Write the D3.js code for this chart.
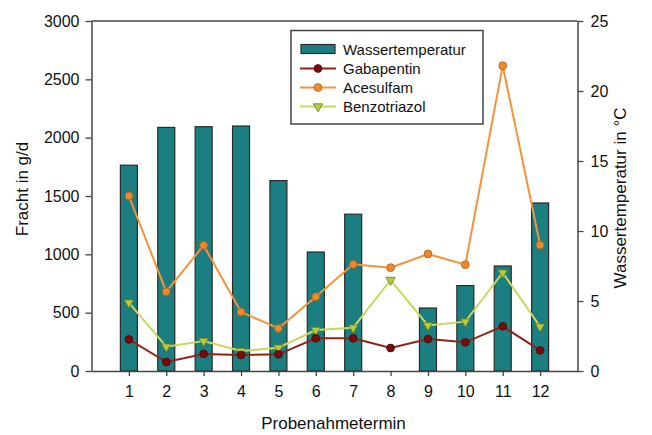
<!DOCTYPE html>
<html><head><meta charset="utf-8">
<script src="https://cdn.jsdelivr.net/npm/d3@7"></script>
<style>body{margin:0;background:#fff;}svg{font-family:"Liberation Sans",Arial,sans-serif;}</style>
</head><body><svg id="c" width="652" height="435"></svg>
<script>
const categories = [1,2,3,4,5,6,7,8,9,10,11,12];
const wassertemperatur = [14.7,17.4,17.45,17.5,13.6,8.5,11.2,null,4.5,6.1,7.5,12.0];
const gabapentin = [271,77,146,137,143,280,280,197,274,246,383,177];
const acesulfam = [1500,680,1077,506,366,637,914,886,1003,911,2617,1080];
const benzotriazol = [586,209,257,171,200,351,371,780,391,423,843,380];
const leftTicks = [0,500,1000,1500,2000,2500,3000];
const rightTicks = [0,5,10,15,20,25];

const svg = d3.select("#c");
const L=91.5, R=577.5, T=21, B=371;
const x = d3.scaleLinear().domain([0,13]).range([L,R]);
const yL = d3.scaleLinear().domain([0,3000]).range([B,T]);
const yR = d3.scaleLinear().domain([0,25]).range([B,T]);
const bw = 17;

// bars
svg.append("g").selectAll("rect").data(categories.map((c,i)=>({c,v:wassertemperatur[i]})).filter(d=>d.v!=null))
 .join("rect").attr("x",d=>x(d.c)-bw/2).attr("width",bw)
 .attr("y",d=>yR(d.v)).attr("height",d=>B-yR(d.v))
 .attr("fill","#1b7e80").attr("stroke","#2b2b2b").attr("stroke-width",1.2);

// frame
svg.append("line").attr("x1",L).attr("x2",R).attr("y1",T).attr("y2",T).attr("stroke","#444").attr("stroke-width",1.5);

const series = [
 {name:"Gabapentin", data:gabapentin, line:"#8e2418", fill:"#7a0b0b", stroke:"#4a0a0a", sym:"circle"},
 {name:"Acesulfam", data:acesulfam, line:"#f7913a", fill:"#f08a28", stroke:"#a8601e", sym:"circle"},
 {name:"Benzotriazol", data:benzotriazol, line:"#c8d85e", fill:"#bccd3c", stroke:"#6b7a1a", sym:"tri"}
];
const lineGen = d3.line().x((d,i)=>x(categories[i])).y(d=>yL(d));
const triPath = d3.symbol().type(d3.symbolTriangle).size(38)();
function marker(g, s, cx, cy){
  if(s.sym==="circle"){
    g.append("circle").attr("cx",cx).attr("cy",cy).attr("r",3.9).attr("fill",s.fill).attr("stroke",s.stroke).attr("stroke-width",0.8);
  } else {
    g.append("path").attr("d",triPath).attr("transform",`translate(${cx},${cy}) rotate(180)`).attr("fill",s.fill).attr("stroke",s.stroke).attr("stroke-width",0.8);
  }
}
[series[2],series[0],series[1]].forEach(s=>{
  const g = svg.append("g");
  g.append("path").attr("d",lineGen(s.data)).attr("fill","none").attr("stroke",s.line).attr("stroke-width",2);
  s.data.forEach((v,i)=>marker(g,s,x(categories[i]),yL(v)));
});

// axes
const axStyle = g=>{g.selectAll("path.domain").attr("stroke","#444").attr("stroke-width",1.5);
  g.selectAll(".tick line").attr("stroke","#444").attr("stroke-width",1.3);
  g.selectAll("text").attr("fill","#111").style("font-size","16px").style("font-family","Liberation Sans, Arial, sans-serif");};
svg.append("g").attr("transform",`translate(${L},0)`)
 .call(d3.axisLeft(yL).tickValues(leftTicks).tickFormat(d3.format("d")).tickSize(6).tickSizeOuter(0).tickPadding(6)).call(axStyle);
svg.append("g").attr("transform",`translate(${R},0)`)
 .call(d3.axisRight(yR).tickValues(rightTicks).tickFormat(d3.format("d")).tickSize(6).tickSizeOuter(0).tickPadding(7)).call(axStyle);
svg.append("g").attr("transform",`translate(0,${B})`)
 .call(d3.axisBottom(x).tickValues(categories).tickFormat(d3.format("d")).tickSize(5).tickSizeOuter(0).tickPadding(10)).call(axStyle);

// titles
svg.append("text").attr("x",(L+R)/2-1).attr("y",429).attr("text-anchor","middle").style("font-size","17px").attr("fill","#111").text("Probenahmetermin");
svg.append("text").attr("transform","translate(28,189) rotate(-90)").attr("text-anchor","middle").style("font-size","17px").attr("fill","#111").text("Fracht in g/d");
svg.append("text").attr("transform","translate(626,198) rotate(-90)").attr("text-anchor","middle").style("font-size","17px").attr("fill","#111").text("Wassertemperatur in °C");

// legend
const lg = svg.append("g");
lg.append("rect").attr("x",291).attr("y",30.5).attr("width",192).attr("height",93.5).attr("fill","#fff").attr("stroke","#444").attr("stroke-width",1.5);
const rows = [{name:"Wassertemperatur",y:49},{name:"Gabapentin",y:68.5,s:series[0]},{name:"Acesulfam",y:87.5,s:series[1]},{name:"Benzotriazol",y:106.5,s:series[2]}];
rows.forEach(r=>{
  if(!r.s){
    lg.append("rect").attr("x",301).attr("y",r.y-4.5).attr("width",34).attr("height",9).attr("fill","#1b7e80").attr("stroke","#2b2b2b").attr("stroke-width",1.2);
  } else {
    lg.append("line").attr("x1",300).attr("x2",336).attr("y1",r.y).attr("y2",r.y).attr("stroke",r.s.line).attr("stroke-width",2);
    marker(lg,r.s,318,r.y);
  }
  lg.append("text").attr("x",343).attr("y",r.y+5.5).style("font-size","15px").attr("fill","#111").text(r.name);
});
</script></body></html>
